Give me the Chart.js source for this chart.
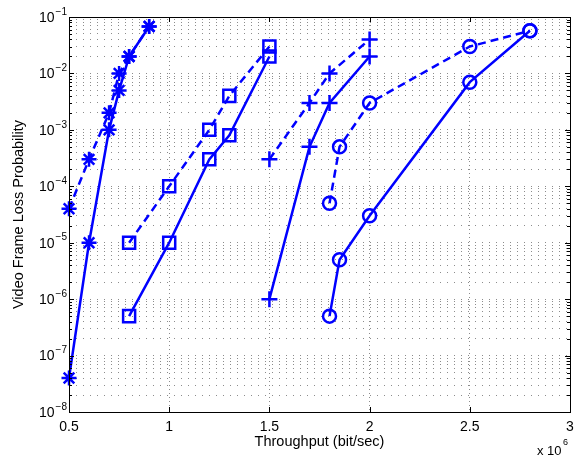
<!DOCTYPE html>
<html>
<head>
<meta charset="utf-8">
<script src="https://cdn.jsdelivr.net/npm/chart.js@4.4.1/dist/chart.umd.min.js"></script>
<style>
  html, body { margin: 0; padding: 0; background: #fff; }
  #wrap { width: 577px; height: 457px; }
</style>
</head>
<body>
<div id="wrap"><canvas id="chart" width="577" height="457"></canvas></div>
<script>
// Throughput in units of 10^6 bit/sec, loss probability on a log scale
const STAR_X = [0.5, 0.6, 0.7, 0.75, 0.8, 0.9];
const STAR_SOLID = [4e-8, 1e-5, 1e-3, 5e-3, 2e-2, 6.8e-2];
const STAR_DASHED = [4e-5, 3e-4, 2e-3, 1e-2, 2e-2, 6.8e-2];

const SQUARE_X = [0.8, 1.0, 1.2, 1.3, 1.5];
const SQUARE_SOLID = [5e-7, 1e-5, 3e-4, 8e-4, 2e-2];
const SQUARE_DASHED = [1e-5, 1e-4, 1e-3, 4e-3, 3e-2];

const PLUS_X = [1.5, 1.7, 1.8, 2.0];
const PLUS_SOLID = [1e-6, 5e-4, 3e-3, 2e-2];
const PLUS_DASHED = [3e-4, 3e-3, 1e-2, 4e-2];

const CIRCLE_X = [1.8, 1.85, 2.0, 2.5, 2.8];
const CIRCLE_SOLID = [5e-7, 5e-6, 3e-5, 7e-3, 5.7e-2];
const CIRCLE_DASHED = [5e-5, 5e-4, 3e-3, 3e-2, 5.7e-2];

const X_TICKS = [0.5, 1, 1.5, 2, 2.5, 3];
const Y_EXPONENTS = [-8, -7, -6, -5, -4, -3, -2, -1];

const BLUE = "#0000ff";
const FONT = "'Liberation Sans', Arial, Helvetica, sans-serif";

function pts(xs, ys) {
  return xs.map((x, i) => ({ x: x, y: ys[i] }));
}

function series(xs, ys, style, radius, dashed) {
  return {
    data: pts(xs, ys),
    showLine: true,
    borderColor: BLUE,
    borderWidth: 2.5,
    borderDash: dashed ? [8, 5] : [],
    pointStyle: style,
    pointRadius: radius,
    pointHoverRadius: radius,
    pointBorderColor: BLUE,
    pointBackgroundColor: "rgba(0,0,0,0)",
    pointBorderWidth: 2.5,
    clip: false,
  };
}

// minor + major ticks for the log axis
function logTicks() {
  const ticks = [];
  Y_EXPONENTS.forEach((e, i) => {
    const base = Math.pow(10, e);
    ticks.push({ value: base, major: true });
    if (i < Y_EXPONENTS.length - 1) {
      for (let m = 2; m <= 9; m++) ticks.push({ value: m * base, major: false });
    }
  });
  return ticks;
}

// ── Box, inward ticks and all labels ────────────────────────────────────

const matlabAxes = {
  id: "matlabAxes",
  afterDraw(chart) {
    const { ctx, chartArea: a, scales } = chart;
    const xs = scales.x, ys = scales.y;
    ctx.save();
    ctx.strokeStyle = "#000";
    ctx.lineWidth = 1;
    ctx.setLineDash([]);
    ctx.strokeRect(Math.round(a.left) + 0.5, Math.round(a.top) + 0.5,
      Math.round(a.right - a.left), Math.round(a.bottom - a.top));

    ctx.beginPath();
    X_TICKS.forEach(v => {
      const px = Math.round(xs.getPixelForValue(v)) + 0.5;
      ctx.moveTo(px, a.bottom); ctx.lineTo(px, a.bottom - 5);
      ctx.moveTo(px, a.top); ctx.lineTo(px, a.top + 5);
    });
    ys.ticks.forEach(t => {
      const py = Math.round(ys.getPixelForValue(t.value)) + 0.5;
      const len = t.major ? 5 : 3;
      ctx.moveTo(a.left, py); ctx.lineTo(a.left + len, py);
      ctx.moveTo(a.right, py); ctx.lineTo(a.right - len, py);
    });
    ctx.stroke();

    ctx.fillStyle = "#000";
    ctx.font = "14px " + FONT;
    ctx.textAlign = "center";
    ctx.textBaseline = "middle";
    X_TICKS.forEach(v => {
      ctx.fillText(String(v), xs.getPixelForValue(v), a.bottom + 15);
    });

    // 10^e labels
    Y_EXPONENTS.forEach(e => {
      const py = ys.getPixelForValue(Math.pow(10, e));
      const expText = "\u2212" + Math.abs(e);
      ctx.font = "10px " + FONT;
      const ew = ctx.measureText(expText).width;
      ctx.textAlign = "left";
      ctx.fillText(expText, a.left - 2 - ew, py - 5);
      ctx.font = "14px " + FONT;
      ctx.textAlign = "right";
      ctx.fillText("10", a.left - 3 - ew, py + 1);
    });

    // axis titles
    ctx.font = "14.5px " + FONT;
    ctx.textAlign = "center";
    ctx.fillText("Throughput (bit/sec)", (a.left + a.right) / 2, a.bottom + 30);

    ctx.save();
    ctx.translate(19, (a.top + a.bottom) / 2);
    ctx.rotate(-Math.PI / 2);
    ctx.fillText("Video Frame Loss Probability", 0, 0);
    ctx.restore();

    // x 10^6 multiplier
    ctx.textAlign = "left";
    ctx.font = "13px " + FONT;
    ctx.fillText("x 10", 537, 451);
    ctx.font = "9px " + FONT;
    ctx.fillText("6", 563, 443);
    ctx.restore();
  }
};

new Chart(document.getElementById("chart"), {
  type: "scatter",
  data: {
    datasets: [
      series(STAR_X, STAR_SOLID, "star", 7.5, false),
      series(STAR_X, STAR_DASHED, "star", 7.5, true),
      series(SQUARE_X, SQUARE_SOLID, "rect", 8.5, false),
      series(SQUARE_X, SQUARE_DASHED, "rect", 8.5, true),
      series(PLUS_X, PLUS_SOLID, "cross", 8, false),
      series(PLUS_X, PLUS_DASHED, "cross", 8, true),
      series(CIRCLE_X, CIRCLE_SOLID, "circle", 6.5, false),
      series(CIRCLE_X, CIRCLE_DASHED, "circle", 6.5, true),
    ]
  },
  options: {
    responsive: false,
    animation: false,
    events: [],
    layout: { autoPadding: false, padding: { left: 69, top: 17, right: 7, bottom: 45 } },
    plugins: { legend: { display: false }, tooltip: { enabled: false } },
    scales: {
      x: {
        type: "linear",
        min: 0.5,
        max: 3,
        afterBuildTicks: s => { s.ticks = X_TICKS.map(v => ({ value: v })); },
        ticks: { display: false },
        grid: { color: "rgba(0,0,0,0.45)", lineWidth: 1, drawTicks: false },
        border: { display: false, dash: [1, 3] },
      },
      y: {
        type: "logarithmic",
        min: 1e-8,
        max: 1e-1,
        afterBuildTicks: s => { s.ticks = logTicks(); },
        ticks: { display: false },
        grid: { color: "rgba(0,0,0,0.45)", lineWidth: 1, drawTicks: false },
        border: { display: false, dash: [1, 6] },
      }
    }
  },
  plugins: [matlabAxes]
});
</script>
</body>
</html>
